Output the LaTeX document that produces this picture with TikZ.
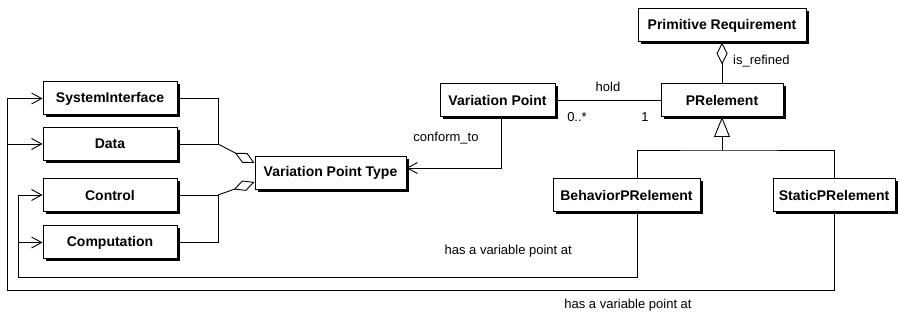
\documentclass[tikz,border=0pt]{standalone}
\usepackage{fontspec}
\setmainfont{Liberation Sans}
\usetikzlibrary{arrows.meta,shadows}
\begin{document}
\begin{tikzpicture}[x=1pt,y=-1pt,
  classbox/.style={draw=black,line width=1pt,fill=white,inner sep=0pt,
    minimum height=33pt,font=\fontsize{14}{16}\selectfont\bfseries,
    drop shadow={shadow xshift=2.5pt,shadow yshift=-2.5pt,fill=black,opacity=1}},
  conn/.style={line width=0.9pt},
  openarrow/.style={conn,-{Straight Barb[length=10pt,width=11pt,line width=0.9pt]}},
  aggr/.style={conn,-{Diamond[open,length=22pt,width=11pt,line width=0.9pt]}},
  lbl/.style={font=\fontsize{13}{15}\selectfont,inner sep=0pt}]
\useasboundingbox (0,0) rectangle (899,320);

% class boxes
\node[classbox,minimum width=134pt] (si)   at (110,98.5)  {SystemInterface};
\node[classbox,minimum width=134pt] (data) at (110,144)   {Data};
\node[classbox,minimum width=134pt] (ctrl) at (110,195)   {Control};
\node[classbox,minimum width=134pt] (comp) at (110,242.5) {Computation};
\node[classbox,minimum width=151pt] (vpt)  at (330.5,173) {Variation Point Type};
\node[classbox,minimum width=115pt] (vp)   at (497.5,100) {Variation Point};
\node[classbox,minimum width=168pt] (pr)   at (722,25.5)  {Primitive Requirement};
\node[classbox,minimum width=122pt] (pre)  at (722,100)   {PRelement};
\node[classbox,minimum width=147pt] (beh)  at (626.5,195.5) {BehaviorPRelement};
\node[classbox,minimum width=122pt] (stat) at (834,195.5) {StaticPRelement};

% junction points
\coordinate (aj1) at (218,144);
\coordinate (aj2) at (218,195);
\coordinate (gj)  at (722,150);
\coordinate (il)  at (18,277);
\coordinate (ol)  at (7,290);

% aggregations into Variation Point Type
\draw[conn] (si.east) -| (aj1);
\draw[conn] (data.east) -- (aj1);
\draw[aggr] (aj1) -- ([yshift=10pt]vpt.west);
\draw[conn] (comp.east) -| (aj2);
\draw[conn] (ctrl.east) -- (aj2);
\draw[aggr] (aj2) -- ([yshift=-9pt]vpt.west);

% conform_to
\draw[openarrow] ([xshift=4pt]vp.south) |- ([yshift=5pt]vpt.east);
\node[lbl] (lconf) at (446,138) {conform\_to};

% hold association
\draw[conn] (vp.east) -- (pre.west);
\node[lbl] (lhold) at (608,87) {hold};
\node[lbl] (lmany) at (577,117) {0..*};
\node[lbl] (lone)  at (645,117) {1};

% is_refined aggregation
\draw[conn,{Diamond[open,length=22pt,width=11pt,line width=0.9pt]}-] (pr.south) -- (pre.north);
\node[lbl,anchor=west] (lref) at (733,61) {is\_refined};

% generalization
\draw[conn,-{Triangle[open,length=20pt,width=16pt,line width=0.9pt]}] (gj) -- (pre.south);
\draw[conn] ([xshift=10.5pt]beh.north) |- (gj) -| (stat.north);

% has a variable point at (behaviour)
\draw[openarrow] ([xshift=10.5pt]beh.south) |- (il) |- (ctrl.west);
\draw[openarrow] (il |- comp.west) -- (comp.west);
\node[lbl,anchor=east] (lbeh) at (572,251) {has a variable point at};

% has a variable point at (static)
\draw[openarrow] (stat.south) |- (ol) |- (si.west);
\draw[openarrow] (ol |- data.west) -- (data.west);
\node[lbl] (lstat) at (628,305) {has a variable point at};
\end{tikzpicture}
\end{document}
